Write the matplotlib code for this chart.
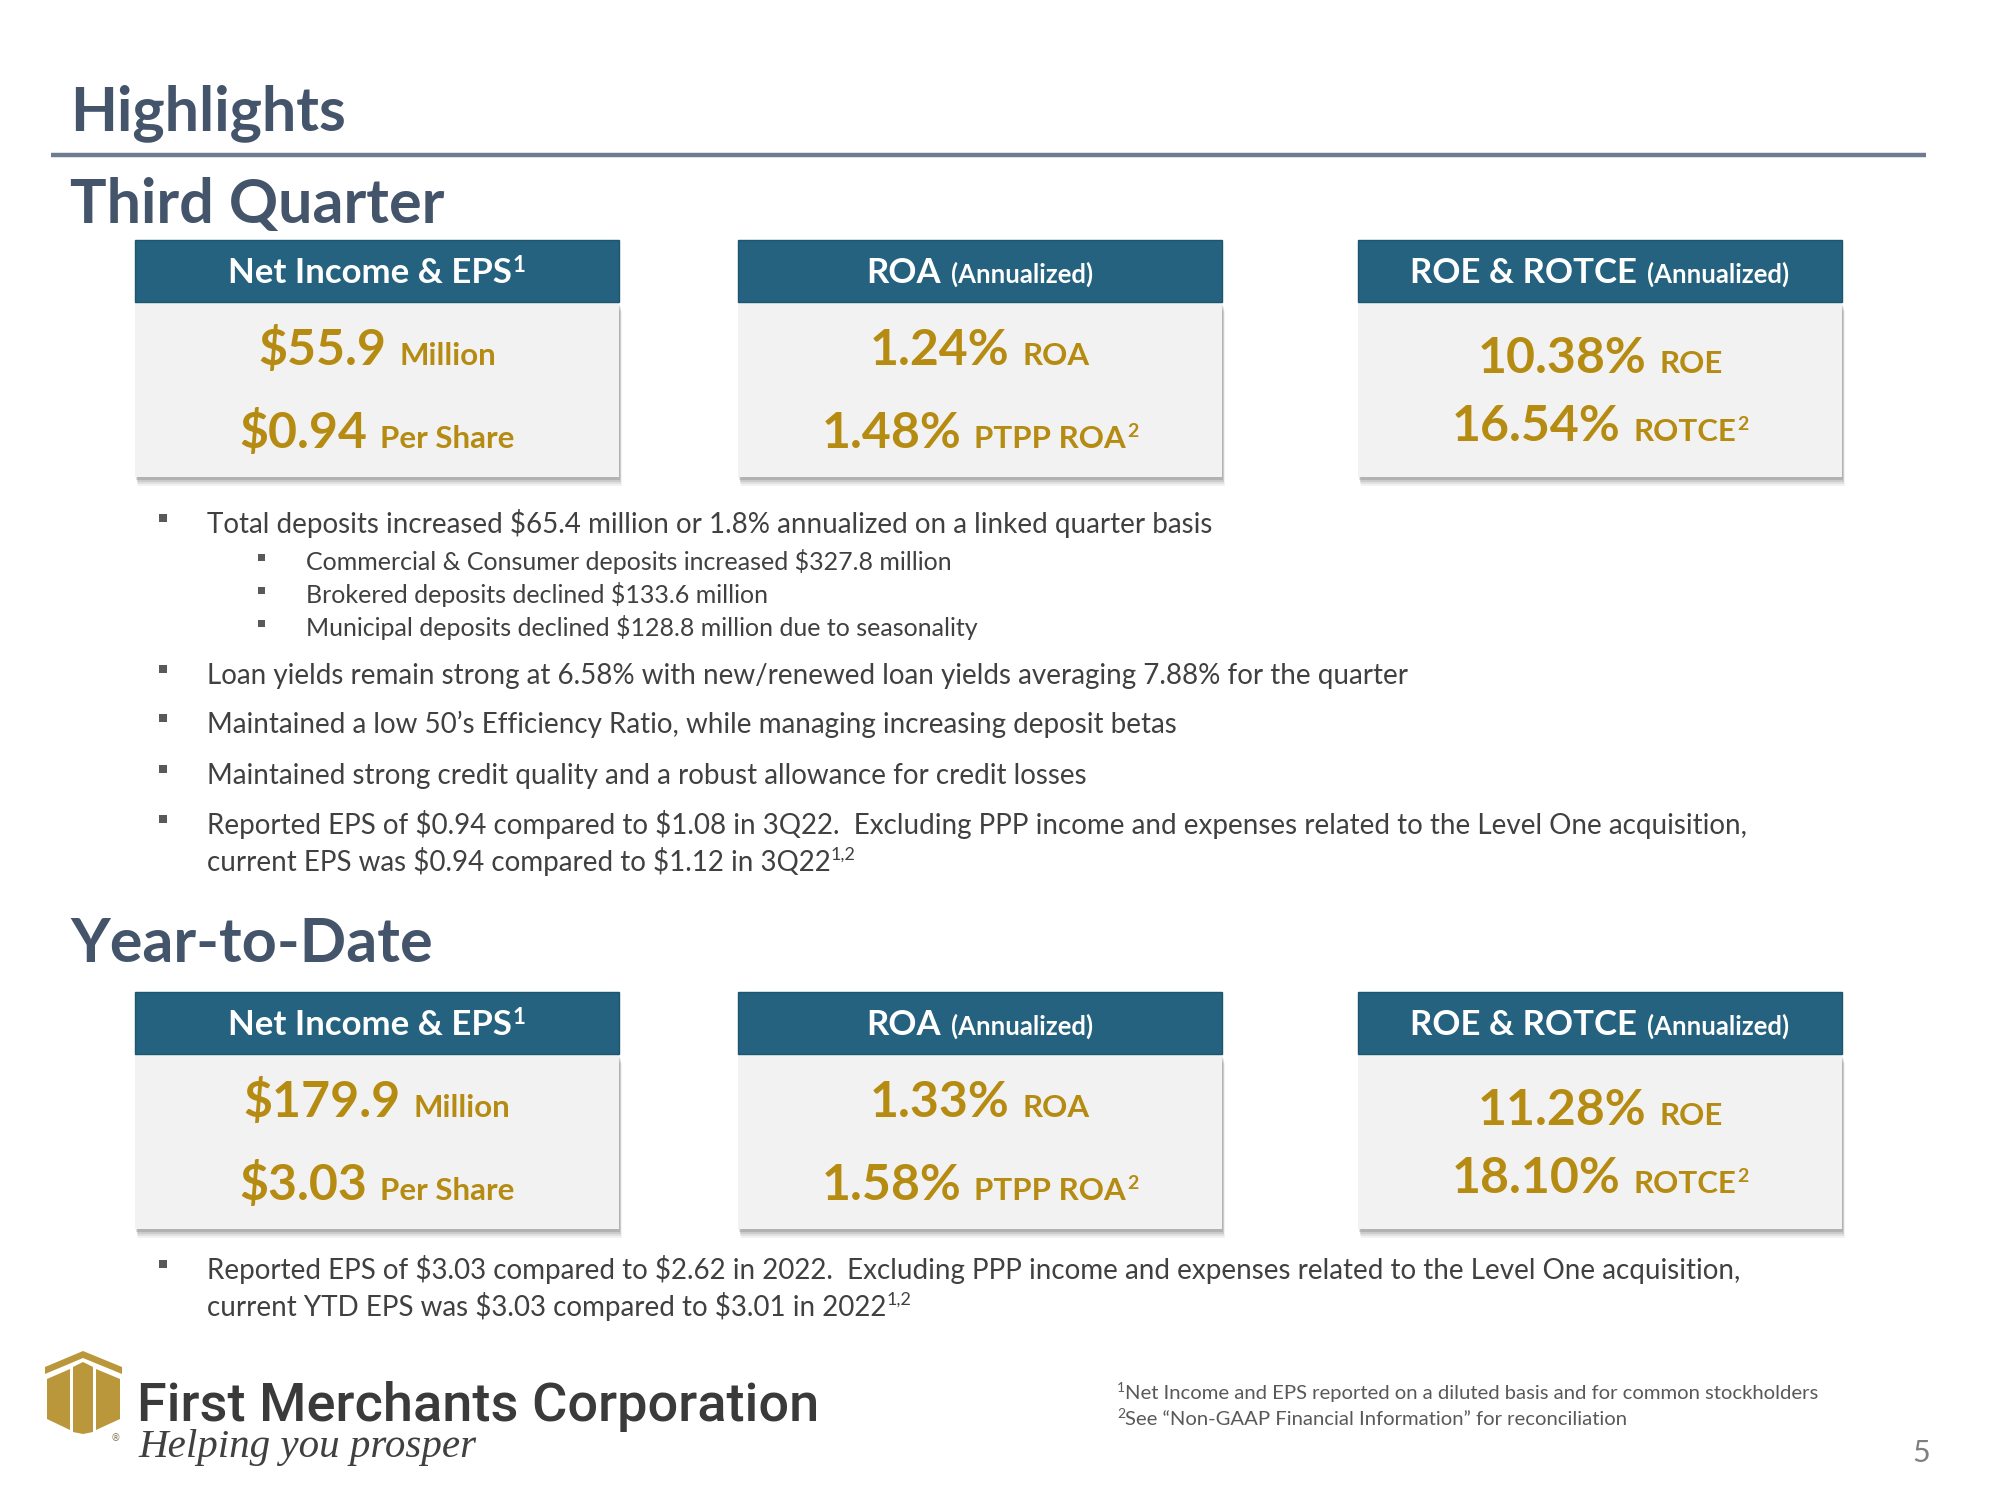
import matplotlib
matplotlib.use("Agg")
import matplotlib.pyplot as plt
from matplotlib.patches import Rectangle, Polygon

plt.rcParams["text.parse_math"] = False

FONT = ["Lato", "DejaVu Sans"]
TITLE_COLOR = "#44546A"
HEAD_COLOR = "#24627F"
BODY_COLOR = "#F2F2F2"
GOLD = "#B68B12"
TEXT_COLOR = "#404040"
LOGO_GOLD = "#BA973A"

# ---- slide content ----
card_titles = ["Net Income & EPS", "ROA", "ROE & ROTCE"]
card_title_notes = ["", "(Annualized)", "(Annualized)"]
card_title_sups = ["1", "", ""]

value_labels = [["Million", "Per Share"], ["ROA", "PTPP ROA"], ["ROE", "ROTCE"]]
value_label_sups = [["", ""], ["", "2"], ["", "2"]]

q3_values = [["$55.9", "$0.94"], ["1.24%", "1.48%"], ["10.38%", "16.54%"]]
ytd_values = [["$179.9", "$3.03"], ["1.33%", "1.58%"], ["11.28%", "18.10%"]]

q3_bullet = "Total deposits increased $65.4 million or 1.8% annualized on a linked quarter basis"
q3_sub_bullets = [
    "Commercial & Consumer deposits increased $327.8 million",
    "Brokered deposits declined $133.6 million",
    "Municipal deposits declined $128.8 million due to seasonality",
]
q3_bullets = [
    ["Loan yields remain strong at 6.58% with new/renewed loan yields averaging 7.88% for the quarter"],
    ["Maintained a low 50\u2019s Efficiency Ratio, while managing increasing deposit betas"],
    ["Maintained strong credit quality and a robust allowance for credit losses"],
    ["Reported EPS of $0.94 compared to $1.08 in 3Q22.  Excluding PPP income and expenses related to the Level One acquisition,",
     "current EPS was $0.94 compared to $1.12 in 3Q22"],
]
q3_bullet_sups = ["", "", "", "1,2"]
ytd_bullet = ["Reported EPS of $3.03 compared to $2.62 in 2022.  Excluding PPP income and expenses related to the Level One acquisition,",
              "current YTD EPS was $3.03 compared to $3.01 in 2022"]
ytd_bullet_sup = "1,2"

footnotes = ["Net Income and EPS reported on a diluted basis and for common stockholders",
             "See \u201cNon-GAAP Financial Information\u201d for reconciliation"]
page_number = "5"

# ---- canvas in pixel units ----
fig = plt.figure(figsize=(20, 15), dpi=100)
ax = fig.add_axes([0, 0, 1, 1])
ax.set_xlim(0, 2000)
ax.set_ylim(1500, 0)
ax.axis("off")
renderer = fig.canvas.get_renderer()


def draw_runs(x, y, runs, ha="left"):
    # runs: (text, size, weight, color, rise, gap_before)
    texts, gaps = [], []
    for s, size, weight, color, rise, gap in runs:
        t = ax.text(0, y - rise, s, fontsize=size, fontweight=weight, color=color,
                    family=FONT, va="baseline", ha="left", zorder=5)
        texts.append(t)
        gaps.append(gap)
    widths = [t.get_window_extent(renderer).width for t in texts]
    total = sum(widths) + sum(gaps)
    x0 = x - total / 2 if ha == "center" else x
    for t, w, g in zip(texts, widths, gaps):
        x0 += g
        t.set_x(x0)
        x0 += w


# headings
for label, y in [("Highlights", 130), ("Third Quarter", 223), ("Year-to-Date", 962)]:
    ax.text(70, y, label, fontsize=44, fontweight="bold", color=TITLE_COLOR,
            family=FONT, va="baseline")
ax.plot([51, 1926], [155, 155], color="#6D7C8E", lw=3.2, solid_capstyle="butt")

card_x = [135, 738, 1358]
card_w = 484


def draw_cards(top, values):
    for i in range(3):
        x = card_x[i]
        cx = x + card_w / 2
        # soft shadow
        for k, a in enumerate([0.05, 0.07, 0.09, 0.12]):
            off = 9 - 2 * k
            ax.add_patch(Rectangle((x + off * 0.3, top + 62 + off), card_w, 175,
                                   facecolor="black", edgecolor="none", alpha=a, zorder=1))
        ax.add_patch(Rectangle((x, top + 62), card_w, 175, facecolor=BODY_COLOR,
                               edgecolor="none", zorder=2))
        ax.add_patch(Rectangle((x, top), card_w, 62, facecolor=HEAD_COLOR,
                               edgecolor="#1E5670", lw=1, zorder=3))
        head = [(card_titles[i], 25, "bold", "white", 0, 0)]
        if card_title_sups[i]:
            head.append((card_title_sups[i], 16, "bold", "white", 11, 1))
        if card_title_notes[i]:
            head.append((card_title_notes[i], 18.5, "bold", "white", 0, 10))
        draw_runs(cx, top + 43, head, ha="center")
        base = [125, 208] if i < 2 else [133, 201]
        for j in range(2):
            runs = [(values[i][j], 36, "bold", GOLD, 0, 0),
                    (value_labels[i][j], 22.5, "bold", GOLD, 0, 13)]
            if value_label_sups[i][j]:
                runs.append((value_label_sups[i][j], 14, "bold", GOLD, 11, 1))
            draw_runs(cx, top + base[j], runs, ha="center")


draw_cards(240, q3_values)
draw_cards(992, ytd_values)


def bullet(xm, y, size):
    ax.add_patch(Rectangle((xm - size / 2, y - 15 - size / 2), size, size,
                           facecolor="#595959", edgecolor="none", zorder=4))


MAIN = 20
SUB = 18

bullet(163, 533, 8)
ax.text(207, 533, q3_bullet, fontsize=MAIN, color=TEXT_COLOR, family=FONT, va="baseline")
for s, y in zip(q3_sub_bullets, [570, 603, 636]):
    ax.add_patch(Rectangle((258, y - 16), 7, 7, facecolor="#595959", edgecolor="none"))
    ax.text(306, y, s, fontsize=SUB, color=TEXT_COLOR, family=FONT, va="baseline")

for lines, sup, y in zip(q3_bullets, q3_bullet_sups, [684, 733, 784, 834]):
    bullet(163, y, 8)
    for k, line in enumerate(lines):
        yy = y + 37 * k
        runs = [(line, MAIN, "normal", TEXT_COLOR, 0, 0)]
        if sup and k == len(lines) - 1:
            runs.append((sup, 13, "normal", TEXT_COLOR, 11, 0))
        draw_runs(207, yy, runs)

bullet(163, 1279, 8)
for k, line in enumerate(ytd_bullet):
    runs = [(line, MAIN, "normal", TEXT_COLOR, 0, 0)]
    if k == len(ytd_bullet) - 1:
        runs.append((ytd_bullet_sup, 13, "normal", TEXT_COLOR, 11, 0))
    draw_runs(207, 1279 + 37 * k, runs)

# footnotes and page number
for k, (note, y) in enumerate(zip(footnotes, [1399, 1425])):
    draw_runs(1117, y, [(str(k + 1), 10, "normal", "#595959", 7, 0),
                        (note, 14.6, "normal", "#595959", 0, 0)])
ax.text(1930, 1462, page_number, fontsize=22, color="#7F7F7F", family=FONT,
        va="baseline", ha="right")

# logo
logo_parts = [
    [(45, 1367), (83, 1351), (122, 1367), (122, 1374), (83, 1358), (45, 1374)],
    [(47, 1379), (70, 1369), (70, 1430), (47, 1419)],
    [(73, 1367), (83, 1362), (93, 1367), (93, 1432), (83, 1434), (73, 1432)],
    [(96, 1369), (120, 1379), (120, 1419), (96, 1430)],
]
for pts in logo_parts:
    ax.add_patch(Polygon(pts, closed=True, facecolor=LOGO_GOLD, edgecolor="none"))
ax.text(116, 1438, "\u00ae", fontsize=7, color="#8a7a50", family="DejaVu Sans",
        ha="center", va="center")
ax.text(137, 1421, "First Merchants Corporation", fontsize=39, fontweight="medium",
        color="#3A3A3A", family=["Roboto", "DejaVu Sans"], va="baseline")
ax.text(138, 1457, "Helping you prosper", fontsize=29.5, style="italic",
        color="#404040", family=["Liberation Serif", "DejaVu Serif"], va="baseline")

fig.savefig("out.png", dpi=100, facecolor="white")
